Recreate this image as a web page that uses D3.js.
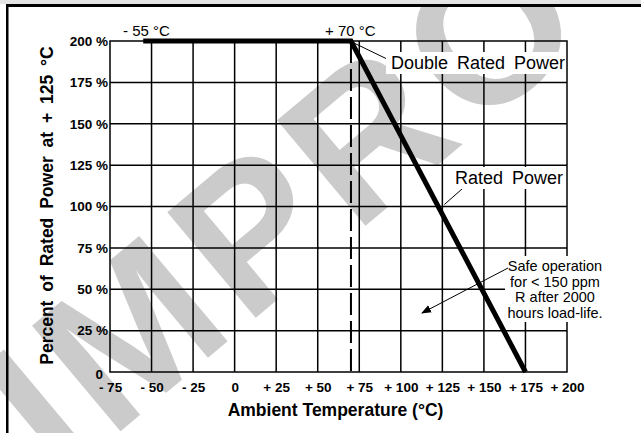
<!DOCTYPE html>
<html>
<head>
<meta charset="utf-8">
<script src="https://cdn.jsdelivr.net/npm/d3@7"></script>
<style>
  html, body { margin: 0; padding: 0; background: #fff; overflow: hidden; }
  svg { display: block; font-family: "Liberation Sans", Arial, sans-serif; }
</style>
</head>
<body>
<div id="chart"></div>
<script>
// derating curve: ambient temperature (°C) vs percent of rated power
const tempPoints = [-55, 70, 175];
const powerPoints = [200, 200, 0];

const xTicks = [-75, -50, -25, 0, 25, 50, 75, 100, 125, 150, 175, 200];
const xTickLabels = ["- 75", "- 50", "- 25", "0", "+ 25", "+ 50", "+ 75", "+ 100", "+ 125", "+ 150", "+ 175", "+ 200"];
const yTicks = [0, 25, 50, 75, 100, 125, 150, 175, 200];
const yTickLabels = ["0", "25 %", "50 %", "75 %", "100 %", "125 %", "150 %", "175 %", "200 %"];

const dashedAt = 70;
const safeText = ["Safe operation", "for < 150 ppm", "R after 2000", "hours load-life."];

const width = 641, height = 433;
const pLeft = 110, pRight = 567, pTop = 41, pBottom = 372;

const svg = d3.select("#chart").append("svg")
    .attr("width", width)
    .attr("height", height)
    .attr("viewBox", [0, 0, width, height]);

const x = d3.scaleLinear().domain([-75, 200]).range([pLeft, pRight]);
const y = d3.scaleLinear().domain([0, 200]).range([pBottom, pTop]);

// watermark
svg.append("text")
    .attr("transform", "translate(60,482) rotate(-40)")
    .attr("font-size", 200)
    .attr("font-weight", "bold")
    .attr("letter-spacing", 10)
    .attr("fill", "#cbcbcb")
    .text("IMPROV");

// grid
const grid = svg.append("g").attr("stroke", "#000").attr("stroke-width", 1.5);
grid.selectAll(".vx").data(xTicks.slice(1, -1)).join("line")
    .attr("x1", d => x(d)).attr("x2", d => x(d))
    .attr("y1", pTop).attr("y2", pBottom);
grid.selectAll(".hy").data(yTicks.slice(1, -1)).join("line")
    .attr("x1", pLeft).attr("x2", pRight)
    .attr("y1", d => y(d)).attr("y2", d => y(d));
grid.append("rect")
    .attr("x", pLeft).attr("y", pTop)
    .attr("width", pRight - pLeft).attr("height", pBottom - pTop)
    .attr("fill", "none");

// axes (labels only)
const xAxis = svg.append("g")
    .attr("transform", `translate(0,${pBottom})`)
    .call(d3.axisBottom(x).tickValues(xTicks).tickSize(0).tickPadding(10)
        .tickFormat((d, i) => xTickLabels[i]));
xAxis.select(".domain").remove();
xAxis.selectAll("text").attr("font-size", 13.5).attr("font-weight", "bold")
    .attr("font-family", "Liberation Sans, Arial, sans-serif").attr("fill", "#000");

const yAxis = svg.append("g")
    .attr("transform", `translate(${pLeft},0)`)
    .call(d3.axisLeft(y).tickValues(yTicks).tickSize(0).tickPadding(2)
        .tickFormat((d, i) => yTickLabels[i]));
yAxis.select(".domain").remove();
yAxis.selectAll("text").attr("font-size", 13.5).attr("font-weight", "bold")
    .attr("font-family", "Liberation Sans, Arial, sans-serif").attr("fill", "#000");
yAxis.selectAll(".tick").filter(d => d === 0).select("text").attr("dy", "0.45em").attr("x", -7);

// axis titles
svg.append("text")
    .attr("x", (pLeft + pRight) / 2 - 3).attr("y", 416)
    .attr("text-anchor", "middle")
    .attr("font-size", 17.5).attr("font-weight", "bold")
    .text("Ambient Temperature (°C)");
svg.append("text")
    .attr("transform", `translate(53,${(pTop + pBottom) / 2 - 1}) rotate(-90)`)
    .attr("text-anchor", "middle")
    .attr("font-size", 17.5).attr("font-weight", "bold")
    .attr("word-spacing", 4)
    .text("Percent of Rated Power at + 125 °C");

// dashed line at +70 °C
svg.append("line")
    .attr("x1", x(dashedAt)).attr("x2", x(dashedAt))
    .attr("y1", y(200)).attr("y2", y(0))
    .attr("stroke", "#000").attr("stroke-width", 2)
    .attr("stroke-dasharray", "22,6");

// derating curve
const line = d3.line().x(d => x(d[0])).y(d => y(d[1]));
svg.append("path")
    .datum(d3.zip(tempPoints, powerPoints))
    .attr("d", line)
    .attr("fill", "none")
    .attr("stroke", "#000")
    .attr("stroke-width", 5)
    .attr("stroke-linejoin", "miter");

// top labels
svg.append("text").attr("x", 123).attr("y", 36).attr("font-size", 15).text("- 55 °C");
svg.append("text").attr("x", 325).attr("y", 36).attr("font-size", 15).text("+ 70 °C");

// annotations with white backing
function label(txt, tx, ty, bx, by, bw, bh) {
  svg.append("rect").attr("x", bx).attr("y", by).attr("width", bw).attr("height", bh).attr("fill", "#fff");
  svg.append("text").attr("x", tx).attr("y", ty).attr("font-size", 18)
      .attr("word-spacing", 4).text(txt);
}
svg.append("line").attr("x1", x(70) + 3).attr("y1", y(200) + 2).attr("x2", 387).attr("y2", 59)
    .attr("stroke", "#000").attr("stroke-width", 1);
label("Double Rated Power", 391, 69, 386, 52, 179, 22);

svg.append("line").attr("x1", x(125) + 2).attr("y1", y(100) - 2).attr("x2", 462).attr("y2", 189)
    .attr("stroke", "#000").attr("stroke-width", 1);
label("Rated Power", 455, 184, 451, 167, 114, 22);

// safe operation note
svg.append("rect").attr("x", 505).attr("y", 256).attr("width", 100).attr("height", 66).attr("fill", "#fff");
svg.append("text")
    .attr("font-size", 14.5)
    .attr("text-anchor", "middle")
    .selectAll("tspan").data(safeText).join("tspan")
    .attr("x", 555)
    .attr("y", (d, i) => 271 + i * 15.6)
    .text(d => d);

svg.append("defs").append("marker")
    .attr("id", "arr").attr("viewBox", "0 0 10 10")
    .attr("refX", 9).attr("refY", 5)
    .attr("markerWidth", 10).attr("markerHeight", 10)
    .attr("markerUnits", "userSpaceOnUse")
    .attr("orient", "auto")
  .append("path").attr("d", "M0,1 L10,5 L0,9 Z").attr("fill", "#000");
svg.append("line").attr("x1", 508).attr("y1", 268).attr("x2", 422).attr("y2", 313)
    .attr("stroke", "#000").attr("stroke-width", 1)
    .attr("marker-end", "url(#arr)");

// page frame (drawn last)
const frame = svg.append("g");
frame.append("rect").attr("x", 0).attr("y", 0).attr("width", width).attr("height", 4).attr("fill", "#e4e4e4");
frame.append("rect").attr("x", 6).attr("y", 4).attr("width", width - 6).attr("height", 3).attr("fill", "#000");
frame.append("rect").attr("x", 6).attr("y", 4).attr("width", 2.5).attr("height", height - 4).attr("fill", "#000");
</script>
</body>
</html>
